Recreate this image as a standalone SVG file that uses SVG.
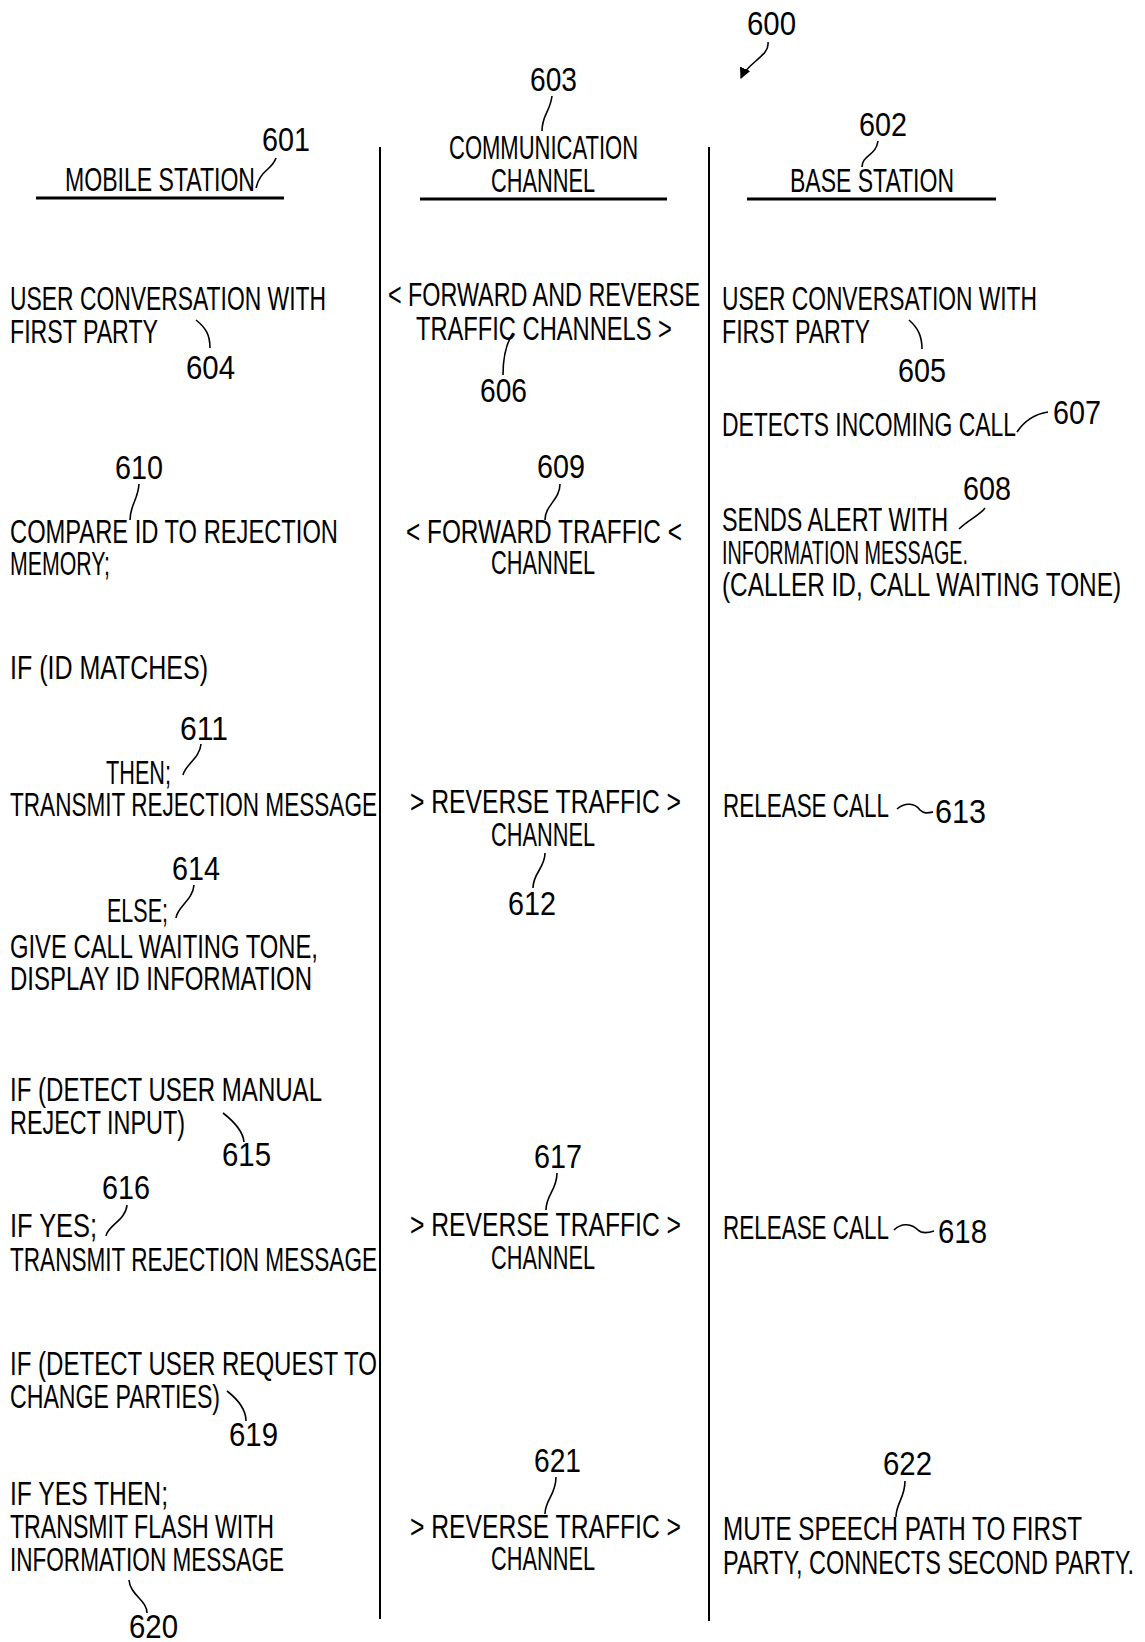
<svg xmlns="http://www.w3.org/2000/svg" width="1145" height="1642" viewBox="0 0 1145 1642">
<style>
text{font-family:"Liberation Sans","DejaVu Sans",sans-serif;font-size:34px;fill:#000}
.t{}
.ld{fill:none;stroke:#000;stroke-width:1.6}
.col{stroke:#000;stroke-width:2}
.ul{stroke:#000;stroke-width:3}
</style>
<defs>
<marker id="ah" viewBox="0 0 10 10" refX="9" refY="5" markerWidth="7" markerHeight="7" orient="auto"><path d="M0,0 L10,5 L0,10 z" fill="#000"/></marker>
</defs>
<rect width="1145" height="1642" fill="#fff"/>

<g id="frame">
<line class="col" x1="380" y1="147" x2="380" y2="1619"/>
<line class="col" x1="709" y1="147" x2="709" y2="1621"/>
<line class="ul" x1="36" y1="198" x2="284" y2="198"/>
<line class="ul" x1="420" y1="199" x2="667" y2="199"/>
<line class="ul" x1="747" y1="199" x2="996" y2="199"/>
</g>

<g id="connectors">
<path class="ld" d="M768,42 C770,56 748,62 741,78" marker-end="url(#ah)"/>
<path class="ld" d="M552,96 C550,112 542,115 542,131"/>
<path class="ld" d="M256,188 C260,170 272,170 276,158"/>
<path class="ld" d="M878,141 C876,156 862,155 862,167"/>
<path class="ld" d="M196,320 C206,328 210,335 210,348"/>
<path class="ld" d="M513,333 C505,345 503,360 503,375"/>
<path class="ld" d="M909,320 C918,328 922,336 922,349"/>
<path class="ld" d="M1017,432 C1025,420 1035,414 1048,412"/>
<path class="ld" d="M139,484 C138,500 130,505 130,520"/>
<path class="ld" d="M560,484 C560,500 545,505 545,520"/>
<path class="ld" d="M959,529 C968,520 980,515 985,508"/>
<path class="ld" d="M201,744 C200,758 185,765 183,775"/>
<path class="ld" d="M545,853 C545,868 533,873 533,888"/>
<path class="ld" d="M897,809 C905,802 915,803 920,810 C924,814 928,813 933,812"/>
<path class="ld" d="M194,885 C193,900 177,907 176,918"/>
<path class="ld" d="M223,1113 C232,1120 243,1130 244,1142"/>
<path class="ld" d="M127,1205 C126,1220 107,1226 106,1236"/>
<path class="ld" d="M557,1173 C557,1190 546,1195 546,1210"/>
<path class="ld" d="M894,1230 C902,1222 912,1224 918,1230 C922,1234 928,1233 934,1231"/>
<path class="ld" d="M227,1391 C236,1398 246,1408 246,1421"/>
<path class="ld" d="M129,1580 C130,1595 147,1600 147,1613"/>
<path class="ld" d="M556,1477 C556,1495 545,1500 545,1514"/>
<path class="ld" d="M905,1481 C905,1498 896,1503 896,1517"/>
</g>

<g id="n600" transform="scale(0.65 1)"><text x="1149.2" y="35" textLength="75.4" lengthAdjust="spacingAndGlyphs">600</text></g>
<g id="n601" transform="scale(0.65 1)"><text x="100" y="191" textLength="292.3" lengthAdjust="spacingAndGlyphs">MOBILE  STATION</text><text x="403.1" y="151" textLength="73.8" lengthAdjust="spacingAndGlyphs">601</text></g>
<g id="n603" transform="scale(0.65 1)"><text x="815.4" y="91" textLength="72.3" lengthAdjust="spacingAndGlyphs">603</text><text x="690.8" y="159" textLength="290.8" lengthAdjust="spacingAndGlyphs">COMMUNICATION</text><text x="755.4" y="192" textLength="160" lengthAdjust="spacingAndGlyphs">CHANNEL</text></g>
<g id="n602" transform="scale(0.65 1)"><text x="1321.5" y="136" textLength="73.8" lengthAdjust="spacingAndGlyphs">602</text><text x="1215.4" y="192" textLength="252.3" lengthAdjust="spacingAndGlyphs">BASE  STATION</text></g>

<g id="n604" transform="scale(0.65 1)"><text x="15.4" y="310" textLength="486.2" lengthAdjust="spacingAndGlyphs">USER  CONVERSATION  WITH</text><text x="15.4" y="343" textLength="227.7" lengthAdjust="spacingAndGlyphs">FIRST  PARTY</text><text x="286.2" y="379" textLength="75.4" lengthAdjust="spacingAndGlyphs">604</text></g>
<g id="n606" transform="scale(0.65 1)"><text x="596.9" y="306" textLength="480" lengthAdjust="spacingAndGlyphs">&lt; FORWARD  AND  REVERSE</text><text x="640" y="340" textLength="393.8" lengthAdjust="spacingAndGlyphs">TRAFFIC  CHANNELS  &gt;</text><text x="738.5" y="402" textLength="72.3" lengthAdjust="spacingAndGlyphs">606</text></g>
<g id="n605" transform="scale(0.65 1)"><text x="1110.8" y="310" textLength="484.6" lengthAdjust="spacingAndGlyphs">USER  CONVERSATION  WITH</text><text x="1110.8" y="343" textLength="227.7" lengthAdjust="spacingAndGlyphs">FIRST  PARTY</text><text x="1381.5" y="382" textLength="73.8" lengthAdjust="spacingAndGlyphs">605</text></g>
<g id="n607" transform="scale(0.65 1)"><text x="1110.8" y="436" textLength="452.3" lengthAdjust="spacingAndGlyphs">DETECTS  INCOMING  CALL</text><text x="1620" y="424" textLength="73.8" lengthAdjust="spacingAndGlyphs">607</text></g>

<g id="n610" transform="scale(0.65 1)"><text x="176.9" y="479" textLength="73.8" lengthAdjust="spacingAndGlyphs">610</text><text x="15.4" y="543" textLength="504.6" lengthAdjust="spacingAndGlyphs">COMPARE  ID  TO  REJECTION</text><text x="15.4" y="575" textLength="153.8" lengthAdjust="spacingAndGlyphs">MEMORY;</text></g>
<g id="n609" transform="scale(0.65 1)"><text x="826.2" y="478" textLength="73.8" lengthAdjust="spacingAndGlyphs">609</text><text x="624.6" y="543" textLength="424.6" lengthAdjust="spacingAndGlyphs">&lt;  FORWARD  TRAFFIC  &lt;</text><text x="755.4" y="574" textLength="160" lengthAdjust="spacingAndGlyphs">CHANNEL</text></g>
<g id="n608" transform="scale(0.65 1)"><text x="1481.5" y="500" textLength="73.8" lengthAdjust="spacingAndGlyphs">608</text><text x="1110.8" y="531" textLength="347.7" lengthAdjust="spacingAndGlyphs">SENDS  ALERT  WITH</text><text x="1110.8" y="564" textLength="378.5" lengthAdjust="spacingAndGlyphs">INFORMATION  MESSAGE.</text><text x="1110.8" y="596" textLength="613.8" lengthAdjust="spacingAndGlyphs">(CALLER  ID,  CALL  WAITING  TONE)</text></g>

<g id="n611" transform="scale(0.65 1)"><text x="15.4" y="679" textLength="304.6" lengthAdjust="spacingAndGlyphs">IF  (ID  MATCHES)</text><text x="276.9" y="740" textLength="73.8" lengthAdjust="spacingAndGlyphs">611</text><text x="163.1" y="784" textLength="100" lengthAdjust="spacingAndGlyphs">THEN;</text><text x="15.4" y="816" textLength="564.6" lengthAdjust="spacingAndGlyphs">TRANSMIT  REJECTION  MESSAGE</text></g>
<g id="n612" transform="scale(0.65 1)"><text x="630.8" y="813" textLength="416.9" lengthAdjust="spacingAndGlyphs">&gt;  REVERSE  TRAFFIC  &gt;</text><text x="755.4" y="846" textLength="160" lengthAdjust="spacingAndGlyphs">CHANNEL</text><text x="781.5" y="915" textLength="73.8" lengthAdjust="spacingAndGlyphs">612</text></g>
<g id="n613" transform="scale(0.65 1)"><text x="1112.3" y="817" textLength="255.4" lengthAdjust="spacingAndGlyphs">RELEASE  CALL</text><text x="1438.5" y="823" textLength="78.5" lengthAdjust="spacingAndGlyphs">613</text></g>
<g id="n614" transform="scale(0.65 1)"><text x="264.6" y="880" textLength="73.8" lengthAdjust="spacingAndGlyphs">614</text><text x="164.6" y="922" textLength="93.8" lengthAdjust="spacingAndGlyphs">ELSE;</text><text x="15.4" y="958" textLength="473.8" lengthAdjust="spacingAndGlyphs">GIVE  CALL  WAITING  TONE,</text><text x="15.4" y="990" textLength="464.6" lengthAdjust="spacingAndGlyphs">DISPLAY  ID  INFORMATION</text></g>

<g id="n615" transform="scale(0.65 1)"><text x="15.4" y="1101" textLength="480" lengthAdjust="spacingAndGlyphs">IF  (DETECT  USER  MANUAL</text><text x="15.4" y="1134" textLength="269.2" lengthAdjust="spacingAndGlyphs">REJECT  INPUT)</text><text x="341.5" y="1166" textLength="75.4" lengthAdjust="spacingAndGlyphs">615</text></g>
<g id="n616" transform="scale(0.65 1)"><text x="156.9" y="1199" textLength="73.8" lengthAdjust="spacingAndGlyphs">616</text><text x="15.4" y="1237" textLength="133.8" lengthAdjust="spacingAndGlyphs">IF  YES;</text><text x="15.4" y="1271" textLength="564.6" lengthAdjust="spacingAndGlyphs">TRANSMIT  REJECTION  MESSAGE</text></g>
<g id="n617" transform="scale(0.65 1)"><text x="821.5" y="1168" textLength="73.8" lengthAdjust="spacingAndGlyphs">617</text><text x="630.8" y="1236" textLength="416.9" lengthAdjust="spacingAndGlyphs">&gt;  REVERSE  TRAFFIC  &gt;</text><text x="755.4" y="1269" textLength="160" lengthAdjust="spacingAndGlyphs">CHANNEL</text></g>
<g id="n618" transform="scale(0.65 1)"><text x="1112.3" y="1239" textLength="255.4" lengthAdjust="spacingAndGlyphs">RELEASE  CALL</text><text x="1443.1" y="1243" textLength="75.4" lengthAdjust="spacingAndGlyphs">618</text></g>

<g id="n619" transform="scale(0.65 1)"><text x="15.4" y="1375" textLength="564.6" lengthAdjust="spacingAndGlyphs">IF  (DETECT  USER  REQUEST  TO</text><text x="15.4" y="1408" textLength="323.1" lengthAdjust="spacingAndGlyphs">CHANGE  PARTIES)</text><text x="352.3" y="1446" textLength="75.4" lengthAdjust="spacingAndGlyphs">619</text></g>
<g id="n620" transform="scale(0.65 1)"><text x="15.4" y="1505" textLength="243.1" lengthAdjust="spacingAndGlyphs">IF  YES  THEN;</text><text x="15.4" y="1538" textLength="406.2" lengthAdjust="spacingAndGlyphs">TRANSMIT  FLASH  WITH</text><text x="15.4" y="1571" textLength="421.5" lengthAdjust="spacingAndGlyphs">INFORMATION  MESSAGE</text><text x="198.5" y="1638" textLength="75.4" lengthAdjust="spacingAndGlyphs">620</text></g>
<g id="n621" transform="scale(0.65 1)"><text x="821.5" y="1472" textLength="72.3" lengthAdjust="spacingAndGlyphs">621</text><text x="630.8" y="1538" textLength="416.9" lengthAdjust="spacingAndGlyphs">&gt;  REVERSE  TRAFFIC  &gt;</text><text x="755.4" y="1570" textLength="160" lengthAdjust="spacingAndGlyphs">CHANNEL</text></g>
<g id="n622" transform="scale(0.65 1)"><text x="1358.5" y="1475" textLength="75.4" lengthAdjust="spacingAndGlyphs">622</text><text x="1112.3" y="1540" textLength="552.3" lengthAdjust="spacingAndGlyphs">MUTE  SPEECH  PATH  TO  FIRST</text><text x="1112.3" y="1574" textLength="632.3" lengthAdjust="spacingAndGlyphs">PARTY,  CONNECTS  SECOND  PARTY.</text></g>
</svg>
